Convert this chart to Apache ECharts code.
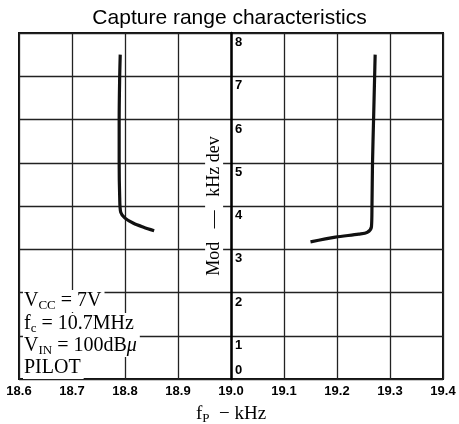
<!DOCTYPE html>
<html>
<head>
<meta charset="utf-8">
<script src="https://cdn.jsdelivr.net/npm/echarts@6/dist/echarts.min.js"></script>
<style>
  html, body { margin: 0; padding: 0; background: #fff; }
  #chart { width: 459px; height: 424px; }
</style>
</head>
<body>
<div id="chart"></div>
<script>
// axis ranges
const freqMin = 18.6
const freqMax = 19.4
const modMin = 0
const modMax = 8

// left branch (fp in kHz, mod in kHz dev)
const leftFreq = [18.791, 18.790, 18.789, 18.789, 18.790, 18.792, 18.800, 18.816, 18.835, 18.855]
const leftMod = [7.5, 7.0, 6.0, 5.0, 4.2, 3.85, 3.72, 3.60, 3.51, 3.43]

// right branch
const rightFreq = [19.272, 19.271, 19.269, 19.267, 19.266, 19.265, 19.257, 19.241, 19.197, 19.150]
const rightMod = [7.5, 7.0, 6.0, 5.0, 4.0, 3.52, 3.39, 3.35, 3.28, 3.17]

const serif = "'Liberation Serif', 'DejaVu Serif', serif"
const sans = "'Liberation Sans', Arial, sans-serif"

const pair = (xs, ys) => xs.map((x, i) => [x, ys[i]])

const chart = echarts.init(document.getElementById('chart'))

const gridLeft = 19
const gridRight = 16
const gridWidth = 459 - gridLeft - gridRight

// rich text styles for the condition notes
const noteRich = {
    m: { fontFamily: serif, fontSize: 20, color: '#000', lineHeight: 22 },
    s: { fontFamily: serif, fontSize: 13, color: '#000', verticalAlign: 'bottom', lineHeight: 22 },
    i: { fontFamily: serif, fontSize: 20, fontStyle: 'italic', color: '#000', lineHeight: 22 }
}
const note = (text, y) => ({
    type: 'text',
    left: 23,
    top: y,
    z: 100,
    style: {
        text: text,
        rich: noteRich,
        backgroundColor: '#fff',
        padding: [0, 3, 0, 1]
    }
})

const option = {
    animation: false,
    title: {
        text: 'Capture range characteristics',
        left: 'center',
        top: 3,
        textStyle: { fontFamily: sans, fontSize: 21, fontWeight: 'normal', color: '#000' }
    },
    grid: {
        left: gridLeft,
        right: gridRight,
        top: 33,
        bottom: 45,
        show: true,
        borderColor: '#111',
        borderWidth: 2,
        containLabel: false,
        outerBoundsMode: 'none'
    },
    xAxis: {
        type: 'value',
        min: freqMin,
        max: freqMax,
        interval: 0.1,
        axisLine: { show: false },
        axisTick: { show: false },
        splitLine: { lineStyle: { color: '#222', width: 1.3 } },
        axisLabel: {
            margin: 6,
            fontFamily: sans,
            fontSize: 13,
            fontWeight: 'bold',
            color: '#000',
            formatter: v => v.toFixed(1)
        },
        name: '{f|f}{p|P}{t|  − kHz}',
        nameLocation: 'middle',
        nameGap: 24,
        nameTextStyle: {
            rich: {
                f: { fontFamily: serif, fontSize: 19, color: '#000', lineHeight: 22 },
                p: { fontFamily: serif, fontSize: 13, color: '#000', verticalAlign: 'bottom', lineHeight: 22 },
                t: { fontFamily: serif, fontSize: 19, color: '#000', lineHeight: 22 }
            }
        }
    },
    yAxis: [
        {
            type: 'value',
            min: modMin,
            max: modMax,
            interval: 1,
            position: 'left',
            offset: -gridWidth / 2,
            axisLine: { show: true, lineStyle: { color: '#000', width: 2.5 } },
            axisTick: { show: false },
            splitLine: { lineStyle: { color: '#222', width: 1.3 } },
            axisLabel: {
                inside: true,
                margin: 4,
                verticalAlign: 'top',
                padding: [3, 0, 0, 0],
                fontFamily: sans,
                fontSize: 13,
                fontWeight: 'bold',
                color: '#000',
                formatter: v => (v === 0 ? '' : String(v))
            },
            name: 'Mod   —   kHz dev',
            nameLocation: 'middle',
            nameGap: -3,
            nameRotate: 90,
            nameTextStyle: {
                fontFamily: serif,
                fontSize: 18,
                color: '#000',
                backgroundColor: '#fff',
                padding: [0, 2, 0, 2]
            }
        },
        {
            type: 'value',
            min: modMin,
            max: modMax,
            interval: 1,
            position: 'left',
            offset: -gridWidth / 2,
            axisLine: { show: false },
            axisTick: { show: false },
            splitLine: { show: false },
            axisLabel: {
                inside: true,
                margin: 4,
                verticalAlign: 'bottom',
                padding: [0, 0, 2, 0],
                fontFamily: sans,
                fontSize: 13,
                fontWeight: 'bold',
                color: '#000',
                formatter: v => (v === 0 ? '0' : '')
            }
        }
    ],
    series: [
        {
            type: 'line',
            data: pair(leftFreq, leftMod),
            symbol: 'none',
            smooth: 0.3,
            lineStyle: { color: '#111', width: 3.2 }
        },
        {
            type: 'line',
            data: pair(rightFreq, rightMod),
            symbol: 'none',
            smooth: 0.3,
            lineStyle: { color: '#111', width: 3.2 }
        }
    ],
    graphic: [
        note('{m|V}{s|CC}{m| = 7V}', 290),
        note('{m|f}{s|c}{m| = 10.7MHz}', 313),
        note('{m|V}{s|IN}{m| = 100dB}{i|μ}', 335),
        note('{m|PILOT}', 357)
    ]
}

chart.setOption(option)
</script>
</body>
</html>
